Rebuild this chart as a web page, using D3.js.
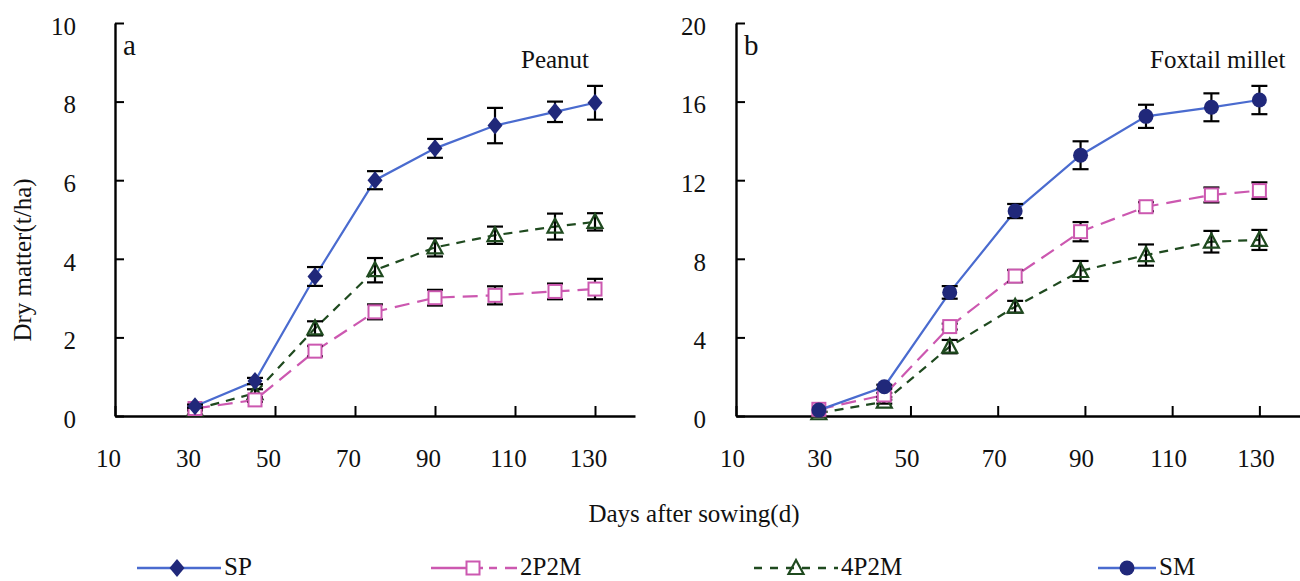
<!DOCTYPE html>
<html>
<head>
<meta charset="utf-8">
<script src="https://cdn.jsdelivr.net/npm/d3@7"></script>
<style>
  html, body { margin: 0; padding: 0; background: #fff; }
</style>
</head>
<body>
<div id="chart"></div>
<script>
// ── Data ──
const xTicks = [10, 30, 50, 70, 90, 110, 130];
const yTicksA = [0, 2, 4, 6, 8, 10];
const yTicksB = [0, 4, 8, 12, 16, 20];

// Panel a – peanut
const daysA   = [30, 45, 60, 75, 90, 105, 120, 130];
const spMean  = [0.25, 0.89, 3.55, 6.0, 6.81, 7.39, 7.74, 7.97];
const spErr   = [0.04, 0.08, 0.24, 0.23, 0.24, 0.45, 0.26, 0.43];
const p2aMean = [0.19, 0.41, 1.65, 2.65, 3.01, 3.07, 3.17, 3.23];
const p2aErr  = [0.03, 0.05, 0.13, 0.19, 0.2, 0.23, 0.2, 0.26];
const p4aMean = [0.17, 0.58, 2.23, 3.71, 4.29, 4.6, 4.82, 4.94];
const p4aErr  = [0.03, 0.1, 0.18, 0.31, 0.23, 0.22, 0.33, 0.22];

// Panel b – foxtail millet
const daysB   = [29, 44, 59, 74, 89, 104, 119, 130];
const smMean  = [0.3, 1.49, 6.29, 10.43, 13.27, 15.25, 15.71, 16.08];
const smErr   = [0.05, 0.1, 0.32, 0.36, 0.71, 0.59, 0.71, 0.72];
const p2bMean = [0.34, 1.07, 4.55, 7.12, 9.38, 10.65, 11.25, 11.47];
const p2bErr  = [0.05, 0.1, 0.15, 0.31, 0.49, 0.23, 0.38, 0.42];
const p4bMean = [0.14, 0.73, 3.53, 5.56, 7.38, 8.19, 8.87, 8.96];
const p4bErr  = [0.04, 0.1, 0.34, 0.3, 0.51, 0.54, 0.55, 0.51];

const legendNames = ["SP", "2P2M", "4P2M", "SM"];

// ── Styles ──
const BLUE = "#4a6bcf", NAVY = "#20287a", PINK = "#cc58b0", GREEN = "#1f4a1f";
const FS = 25;
const SERIF = "'Liberation Serif', Tinos, 'Times New Roman', Times, 'Nimbus Roman', 'Nimbus Roman No9 L', 'DejaVu Serif', FreeSerif, 'Noto Serif', serif";

const W = 1300, H = 581;
const svg = d3.select("#chart").append("svg")
  .attr("width", W).attr("height", H)
  .style("display", "block");
svg.append("rect").attr("width", W).attr("height", H).attr("fill", "#fff");

const diamondPath = "M0,-9L7.5,0L0,9L-7.5,0Z";
const trianglePath = "M0,-8L7.5,6L-7.5,6Z";

function addText(g, txt, size) {
  return g.append("text").attr("font-family", SERIF).attr("font-size", size).attr("fill", "#111").text(txt);
}

function drawMarker(g, kind, x, y) {
  if (kind === "diamond") {
    g.append("path").attr("d", diamondPath).attr("transform", `translate(${x},${y})`).attr("fill", NAVY);
  } else if (kind === "circle") {
    g.append("circle").attr("cx", x).attr("cy", y).attr("r", 7.5).attr("fill", NAVY);
  } else if (kind === "square") {
    g.append("rect").attr("x", x - 6.5).attr("y", y - 6.5).attr("width", 13).attr("height", 13)
      .attr("fill", "#fff").attr("stroke", PINK).attr("stroke-width", 2);
  } else if (kind === "triangle") {
    g.append("path").attr("d", trianglePath).attr("transform", `translate(${x},${y})`)
      .attr("fill", "none").attr("stroke", GREEN).attr("stroke-width", 2.2);
  }
}

function drawPanel(cfg) {
  const x = d3.scaleLinear().domain([10, 140]).range(cfg.xRange);
  const y = d3.scaleLinear().domain(cfg.yDomain).range([416, 23]);
  const g = svg.append("g");

  // axes
  const xAxis = g.append("g").attr("transform", `translate(0,${y(0)})`)
    .call(d3.axisBottom(x).tickValues(xTicks).tickSize(-10).tickSizeOuter(0).tickPadding(33));
  xAxis.selectAll("text").attr("dx", cfg.xLabelDx);

  const yAxis = g.append("g").attr("transform", `translate(${x(10)},0)`)
    .call(d3.axisLeft(y).tickValues(cfg.yTicks).tickSize(-9).tickSizeOuter(0).tickPadding(cfg.yPad));
  yAxis.selectAll("text").attr("dy", "0.45em");

  [xAxis, yAxis].forEach(a => {
    a.attr("font-family", SERIF).attr("font-size", FS);
    a.select(".domain").attr("stroke", "#000").attr("stroke-width", 2.4);
    a.selectAll(".tick line").attr("stroke", "#000").attr("stroke-width", 2);
    a.selectAll("text").attr("fill", "#111");
  });

  // series
  const line = d3.line().x(d => x(d[0])).y(d => y(d[1]));
  cfg.series.forEach(s => {
    const pts = cfg.days.map((d, i) => [d, s.mean[i], s.err[i]]);
    g.append("path").datum(pts).attr("d", line)
      .attr("fill", "none").attr("stroke", s.color).attr("stroke-width", 2.2)
      .attr("stroke-dasharray", s.dash);
    const eb = g.append("g").attr("stroke", "#000").attr("stroke-width", 2.2);
    pts.forEach(p => {
      const cx = x(p[0]), y0 = y(p[1] - p[2]), y1 = y(p[1] + p[2]);
      if (y0 - y1 < 2) return;
      eb.append("line").attr("x1", cx).attr("x2", cx).attr("y1", y0).attr("y2", y1);
      eb.append("line").attr("x1", cx - 8).attr("x2", cx + 8).attr("y1", y0).attr("y2", y0);
      eb.append("line").attr("x1", cx - 8).attr("x2", cx + 8).attr("y1", y1).attr("y2", y1);
    });
    pts.forEach(p => drawMarker(g, s.marker, x(p[0]), y(p[1])));
  });

  addText(g, cfg.tag, 29).attr("x", x(10) + 8).attr("y", 55);
  addText(g, cfg.title, FS).attr("x", cfg.titleX).attr("y", 68);
}

drawPanel({
  xRange: [115, 635], yDomain: [0, 10], yTicks: yTicksA, yPad: 39, xLabelDx: -7,
  days: daysA, tag: "a", title: "Peanut", titleX: 521,
  series: [
    { mean: p4aMean, err: p4aErr, color: GREEN, dash: "9,7", marker: "triangle" },
    { mean: p2aMean, err: p2aErr, color: PINK, dash: "15,8", marker: "square" },
    { mean: spMean, err: spErr, color: BLUE, dash: null, marker: "diamond" },
  ],
});

drawPanel({
  xRange: [736, 1303], yDomain: [0, 20], yTicks: yTicksB, yPad: 30, xLabelDx: -4,
  days: daysB, tag: "b", title: "Foxtail millet", titleX: 1150,
  series: [
    { mean: p4bMean, err: p4bErr, color: GREEN, dash: "9,7", marker: "triangle" },
    { mean: p2bMean, err: p2bErr, color: PINK, dash: "15,8", marker: "square" },
    { mean: smMean, err: smErr, color: BLUE, dash: null, marker: "circle" },
  ],
});

// axis titles
addText(svg, "Dry matter(t/ha)", FS).attr("transform", "translate(31,260) rotate(-90)")
  .attr("text-anchor", "middle");
addText(svg, "Days after sowing(d)", FS).attr("x", 694).attr("y", 522)
  .attr("text-anchor", "middle");

// legend
const LY = 568;
const legend = svg.append("g");
const legendItems = [
  { x0: 137, x1: 221, mx: 177, color: BLUE, dash: null, marker: "diamond" },
  { x0: 431, x1: 517, mx: 473, color: PINK, dash: "52,6,8,8,12", marker: "square" },
  { x0: 754, x1: 838, mx: 796, color: GREEN, dash: "8,8", marker: "triangle" },
  { x0: 1098, x1: 1156, mx: 1127, color: BLUE, dash: null, marker: "circle" },
];
legendItems.forEach((it, i) => {
  legend.append("line").attr("x1", it.x0).attr("x2", it.x1).attr("y1", LY).attr("y2", LY)
    .attr("stroke", it.color).attr("stroke-width", 2.4).attr("stroke-dasharray", it.dash);
  drawMarker(legend, it.marker, it.mx, LY);
  addText(legend, legendNames[i], FS).attr("x", it.x1 + 3).attr("y", LY + 7);
});
</script>
</body>
</html>
